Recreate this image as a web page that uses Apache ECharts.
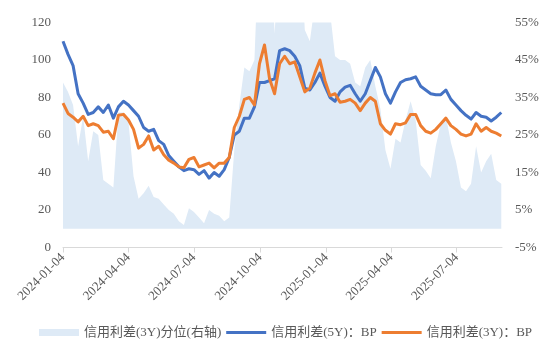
<!DOCTYPE html>
<html>
<head>
<meta charset="utf-8">
<script src="https://cdn.jsdelivr.net/npm/echarts@6/dist/echarts.min.js"></script>
<style>
html,body{margin:0;padding:0;background:#fff;}
#chart{width:550px;height:358px;}
</style>
</head>
<body>
<div id="chart"></div>
<script>
// weekly sample dates
const dates = [
'2024-01-04','2024-01-11','2024-01-18','2024-01-25','2024-02-01','2024-02-08','2024-02-15','2024-02-22','2024-02-29','2024-03-07',
'2024-03-14','2024-03-21','2024-03-28','2024-04-04','2024-04-11','2024-04-18','2024-04-25','2024-05-02','2024-05-09','2024-05-16',
'2024-05-23','2024-05-30','2024-06-06','2024-06-13','2024-06-20','2024-06-27','2024-07-04','2024-07-11','2024-07-18','2024-07-25',
'2024-08-01','2024-08-08','2024-08-15','2024-08-22','2024-08-29','2024-09-05','2024-09-12','2024-09-19','2024-09-26','2024-10-03',
'2024-10-10','2024-10-17','2024-10-24','2024-10-31','2024-11-07','2024-11-14','2024-11-21','2024-11-28','2024-12-05','2024-12-12',
'2024-12-19','2024-12-26','2025-01-02','2025-01-09','2025-01-16','2025-01-23','2025-01-30','2025-02-06','2025-02-13','2025-02-20',
'2025-02-27','2025-03-06','2025-03-13','2025-03-20','2025-03-27','2025-04-03','2025-04-10','2025-04-17','2025-04-24','2025-05-01',
'2025-05-08','2025-05-15','2025-05-22','2025-05-29','2025-06-05','2025-06-12','2025-06-19','2025-06-26','2025-07-03','2025-07-10',
'2025-07-17','2025-07-24','2025-07-31','2025-08-07','2025-08-14','2025-08-21','2025-08-28','2025-09-04'
];
// 信用利差(5Y), BP
const spread5Y = [
110,103,97,82,77,71,72,75,72,76,
69,75,78,76,73,70,64,62,63,57,
55,49,46,43,41,42,41.5,39,41,37,
40,38,41.5,48,60,62,69,69,75,88,
88,89,90,105,106,105,102,97,85,84,
88,93,86,80,78,83,85.5,86.5,82,78,
82,89,96,91,82,77,83,88,89.5,90,
91,86,84,82,81.5,81.5,84,79,76,73,
70.5,68.5,72,70,69.5,67.5,69.5,72
];
// 信用利差(3Y), BP
const spread3Y = [
77,71.5,69.5,67,70,65,66,65,61.5,62,
58,70.5,71,68,63,53,55,59.5,52,54,
49.5,46.5,45,43,42.5,47,48,43,44,45,
42.5,45,45,48,64,70,79,80,76,98,
108,90,82,98,102,98,99,91,83,85,
93,100,89,81,82,77.5,78,79,77,73,
77,80,78,66,62.5,60.5,66,65.5,66.5,71,
71,65,62,61,63,66,69,65,63,60.5,
59.5,60.5,66,62,64,62,61,59.5
];
// 信用利差(3Y)分位, %
const pct3Y = [
39,36.5,33,22,30,18,26,25,13,12,
11,31,31,28.5,14,8,9.5,11.5,8.5,8,
6.5,5,4,2,1,5.5,4.5,3,1.5,5,
4,3.5,2,3,21,33,43,42,45,80,
90,85,52,75,95,100,95,80,53,50,
60,70,65,58,46,45,45,44,39,38,
43,45,38,32,21,16,24,23,29,34,
29,17,15.5,13.5,22,28,30,23,18,11,
10,12,22,15,18,20,13,12
];
const xTickLabels = ['2024-01-04','2024-04-04','2024-07-04','2024-10-04','2025-01-04','2025-04-04','2025-07-04'];
const axisStart = '2024-01-04';
const axisEnd = '2025-09-05';
const names = ['信用利差(3Y)分位(右轴)','信用利差(5Y)：BP','信用利差(3Y)：BP'];

const FONT = "'Liberation Serif','Noto Sans CJK SC',serif";
const GRAY = '#595959';
const AREA = '#DEEAF6';
function ts(s){ const p=s.split('-').map(Number); return Date.UTC(p[0],p[1]-1,p[2]); }
function fmt(v){ const d=new Date(v); const m=d.getUTCMonth()+1, dd=d.getUTCDate();
  return d.getUTCFullYear()+'-'+(m<10?'0':'')+m+'-'+(dd<10?'0':'')+dd; }
const tickTs = xTickLabels.map(ts);
const lineIcon = 'path://M0,0 L40,0 L40,3 L0,3 Z';

const chart = echarts.init(document.getElementById('chart'), null, {renderer:'canvas'});
chart.setOption({
  animation:false,
  backgroundColor:'#ffffff',
  grid:{left:63,right:48,top:22.5,bottom:110.5,containLabel:false},
  legend:{
    left:34, top:321,
    itemWidth:40, itemHeight:7, itemGap:5,
    textStyle:{color:GRAY,fontSize:13,fontFamily:FONT},
    data:[{name:names[0],icon:'rect'},{name:names[1],icon:lineIcon},{name:names[2],icon:lineIcon}]
  },
  xAxis:{
    type:'value',
    min:ts(axisStart),
    max:ts(axisEnd),
    axisLine:{show:true,lineStyle:{color:'#D9D9D9',width:1}},
    axisTick:{show:true,customValues:tickTs,length:5,lineStyle:{color:'#D9D9D9'}},
    axisLabel:{
      customValues:tickTs,
      rotate:45,
      margin:8,
      color:GRAY,fontSize:13,fontFamily:FONT,
      formatter:function(v){return fmt(v);}
    },
    splitLine:{show:false}
  },
  yAxis:[
    {type:'value',min:0,max:120,interval:20,
     axisLine:{show:false},axisTick:{show:false},splitLine:{show:false},
     axisLabel:{color:GRAY,fontSize:13,fontFamily:FONT,margin:12}},
    {type:'value',min:-5,max:55,interval:10,position:'right',
     axisLine:{show:false},axisTick:{show:false},splitLine:{show:false},
     axisLabel:{color:GRAY,fontSize:13,fontFamily:FONT,margin:13,formatter:function(v){return v+'%';}}}
  ],
  series:[
    {name:names[0],type:'line',yAxisIndex:1,symbol:'none',clip:true,
     color:AREA,
     lineStyle:{width:0},
     areaStyle:{color:AREA,opacity:1},
     data:dates.map((d,i)=>[ts(d),pct3Y[i]])},
    {name:names[1],type:'line',yAxisIndex:0,symbol:'none',
     color:'#4472C4',lineStyle:{width:3,color:'#4472C4',join:'round'},
     data:dates.map((d,i)=>[ts(d),spread5Y[i]])},
    {name:names[2],type:'line',yAxisIndex:0,symbol:'none',
     color:'#ED7D31',lineStyle:{width:3,color:'#ED7D31',join:'round'},
     data:dates.map((d,i)=>[ts(d),spread3Y[i]])}
  ]
});
</script>
</body>
</html>
